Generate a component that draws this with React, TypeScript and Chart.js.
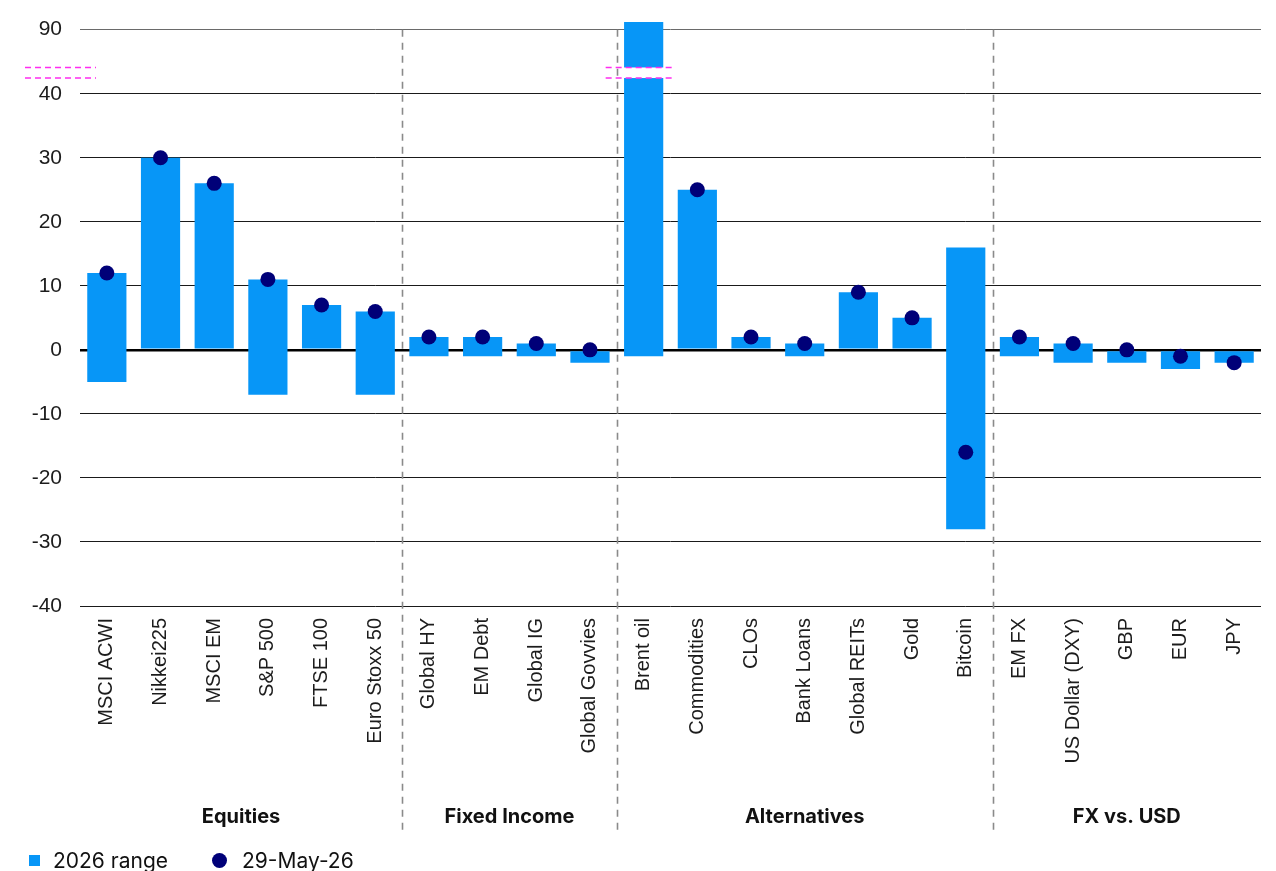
import React, { useEffect, useRef } from "react";
import { Chart, registerables } from "chart.js";

Chart.register(...registerables);

// ---- data ----
const categories = [
  "MSCI ACWI", "Nikkei225", "MSCI EM", "S&P 500", "FTSE 100", "Euro Stoxx 50",
  "Global HY", "EM Debt", "Global IG", "Global Govvies",
  "Brent oil", "Commodities", "CLOs", "Bank Loans", "Global REITs", "Gold", "Bitcoin",
  "EM FX", "US Dollar (DXY)", "GBP", "EUR", "JPY",
];
const rangeLow = [-5, 0, 0, -7, 0, -7, -1, -1, -1, -2, -1, 0, 0, -1, 0, 0, -28, -1, -2, -2, -3, -2];
const rangeHigh = [12, 30, 26, 11, 7, 6, 2, 2, 1, 0, 96, 25, 2, 1, 9, 5, 16, 2, 1, 0, 0, 0];
const current: (number | null)[] = [12, 30, 26, 11, 7, 6, 2, 2, 1, 0, null, 25, 2, 1, 9, 5, -16, 2, 1, 0, -1, -2];
const groupLabels = ["Equities", "Fixed Income", "Alternatives", "FX vs. USD"];
const groupSizes = [6, 4, 7, 5];
const yTicks = [-40, -30, -20, -10, 0, 10, 20, 30, 40, 90];
const rangeLabel = "2026 range";
const currentLabel = "29-May-26";

// axis break: values above 40 are compressed
const BREAK_AT = 40;
const BREAK_SCALE = 0.2;
const toDisplay = (v: number) => (v <= BREAK_AT ? v : BREAK_AT + (v - BREAK_AT) * BREAK_SCALE);

const BAR_COLOR = "#0796F7";
const DOT_COLOR = "#000078";
const TEXT_COLOR = "#1c1c1c";
const BREAK_COLOR = "#FF2DF0";

export default function App() {
  const canvasRef = useRef<HTMLCanvasElement | null>(null);

  useEffect(() => {
    document.body.style.margin = "0";
    const canvas = canvasRef.current;
    if (!canvas) return;

    const decor = {
      id: "decor",
      beforeDatasetsDraw(chart: any) {
        const { ctx, scales } = chart;
        const x = scales.x;
        const y = scales.y;
        const step = x.getPixelForValue(1) - x.getPixelForValue(0);
        ctx.save();
        ctx.strokeStyle = "#8a8a8a";
        ctx.lineWidth = 1.6;
        ctx.setLineDash([7, 6]);
        let idx = 0;
        for (let g = 0; g < groupSizes.length - 1; g++) {
          idx += groupSizes[g];
          const px = Math.round(x.getPixelForValue(idx) - step / 2) + 0.5;
          ctx.beginPath();
          ctx.moveTo(px, y.getPixelForValue(toDisplay(90)));
          ctx.lineTo(px, 832);
          ctx.stroke();
        }
        ctx.restore();
      },
      afterDatasetsDraw(chart: any) {
        const { ctx, chartArea, scales } = chart;
        const x = scales.x;
        const y = scales.y;
        const yHi = y.getPixelForValue(44.1);
        const yLo = y.getPixelForValue(42.45);
        const step = x.getPixelForValue(1) - x.getPixelForValue(0);
        ctx.save();
        // gap in Brent oil bar
        const bi = categories.indexOf("Brent oil");
        const bx = x.getPixelForValue(bi);
        const bw = step * 0.73;
        ctx.fillStyle = "#ffffff";
        ctx.fillRect(bx - bw / 2 - 1, yHi, bw + 2, yLo - yHi);
        ctx.strokeStyle = BREAK_COLOR;
        ctx.lineWidth = 1.5;
        ctx.setLineDash([6, 4]);
        const drawMarks = (x0: number, x1: number) => {
          for (const yy of [yHi, yLo]) {
            ctx.beginPath();
            ctx.moveTo(x0, yy);
            ctx.lineTo(x1, yy);
            ctx.stroke();
          }
        };
        drawMarks(chartArea.left - 55, chartArea.left + 16);
        drawMarks(bx - 38, bx + 31);
        ctx.restore();
      },
      afterDraw(chart: any) {
        const { ctx, scales } = chart;
        const x = scales.x;
        const step = x.getPixelForValue(1) - x.getPixelForValue(0);
        ctx.save();
        ctx.fillStyle = "#111111";
        ctx.font = "700 20px Inter";
        ctx.textAlign = "center";
        ctx.textBaseline = "alphabetic";
        let start = 0;
        groupSizes.forEach((n, g) => {
          const left = x.getPixelForValue(start) - step / 2;
          const right = x.getPixelForValue(start + n - 1) + step / 2;
          ctx.fillText(groupLabels[g], (left + right) / 2, 823);
          start += n;
        });
        // legend
        ctx.fillStyle = BAR_COLOR;
        ctx.fillRect(29, 855, 11, 11);
        ctx.fillStyle = "#111111";
        ctx.font = "21px Inter";
        ctx.textAlign = "left";
        ctx.fillText(rangeLabel, 53, 868);
        ctx.fillStyle = DOT_COLOR;
        ctx.beginPath();
        ctx.arc(219.5, 860.5, 7.5, 0, Math.PI * 2);
        ctx.fill();
        ctx.fillStyle = "#111111";
        ctx.fillText(currentLabel, 242, 868);
        ctx.restore();
      },
    };

    const chart = new Chart(canvas, {
      type: "bar",
      data: {
        labels: categories,
        datasets: [
          {
            type: "line",
            label: currentLabel,
            data: current.map((v) => (v === null ? null : toDisplay(v))),
            showLine: false,
            pointRadius: 7.5,
            pointHoverRadius: 7.5,
            pointBackgroundColor: DOT_COLOR,
            pointBorderColor: DOT_COLOR,
            pointBorderWidth: 0,
            backgroundColor: DOT_COLOR,
            order: 0,
          } as any,
          {
            type: "bar",
            label: rangeLabel,
            data: rangeLow.map((l, i) => [toDisplay(l), toDisplay(rangeHigh[i])]) as any,
            backgroundColor: BAR_COLOR,
            borderWidth: 0,
            barPercentage: 0.73,
            categoryPercentage: 1,
            order: 1,
          },
        ],
      },
      options: {
        responsive: false,
        animation: false,
        devicePixelRatio: window.devicePixelRatio || 1,
        layout: { padding: { top: 22, right: 15, left: 0, bottom: 0 } },
        plugins: { legend: { display: false }, tooltip: { enabled: false } },
        scales: {
          x: {
            grid: { display: false, drawTicks: false },
            border: { display: false },
            ticks: {
              autoSkip: false,
              minRotation: 90,
              maxRotation: 90,
              padding: 12,
              color: TEXT_COLOR,
              font: { family: "'Liberation Sans', Arial, sans-serif", size: 20 },
            },
            afterFit(scale: any) {
              scale.height = 265;
              scale.paddingLeft = 0;
              scale.paddingRight = 0;
            },
          },
          y: {
            type: "linear",
            min: -40,
            max: toDisplay(Math.max(...rangeHigh)),
            grid: {
              drawTicks: false,
              color: (c: any) => (c.tick && c.tick.value === 0 ? "#000000" : c.tick && c.tick.value === toDisplay(90) ? "#6a6a6a" : "#1a1a1a"),
              lineWidth: (c: any) => (c.tick && c.tick.value === 0 ? 2.6 : 1),
            },
            border: { display: false },
            afterBuildTicks(scale: any) {
              scale.ticks = yTicks.map((v) => ({ value: toDisplay(v) }));
            },
            ticks: {
              padding: 18,
              color: TEXT_COLOR,
              font: { family: "'Liberation Sans', Arial, sans-serif", size: 21 },
              callback: (_v: any, i: number) => String(yTicks[i]),
            },
            afterFit(scale: any) {
              scale.width = 80;
              scale.paddingTop = 0;
              scale.paddingBottom = 0;
            },
          },
        },
      },
      plugins: [decor],
    });

    return () => chart.destroy();
  }, []);

  return (
    <div style={{ width: 1276, height: 871, position: "relative", overflow: "hidden" }}>
      <canvas ref={canvasRef} width={1276} height={871} style={{ display: "block", width: 1276, height: 871 }} />
    </div>
  );
}
